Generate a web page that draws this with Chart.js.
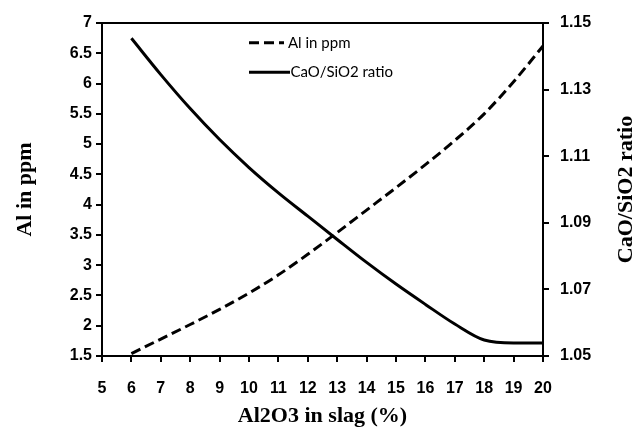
<!DOCTYPE html>
<html><head><meta charset="utf-8">
<script src="https://cdn.jsdelivr.net/npm/chart.js@4"></script>
<style>html,body{margin:0;padding:0;background:#fff}#wrap{width:638px;height:428px}</style>
</head><body><div id="wrap"><canvas id="c" width="638" height="428"></canvas></div>
<script>
const xValues = [6,7,8,9,10,11,12,13,14,15,16,17,18,19,20];
const alPpm = [1.54,1.78,2.02,2.27,2.54,2.84,3.18,3.54,3.91,4.28,4.66,5.06,5.50,6.03,6.62];
const caoSio2Ratio = [1.1454,1.1345,1.1243,1.1150,1.1066,1.0990,1.0920,1.0850,1.0781,1.0716,1.0655,1.0596,1.0548,1.0539,1.0539];
const xTickLabels = ['5','6','7','8','9','10','11','12','13','14','15','16','17','18','19','20'];
const leftTickLabels = ['1.5','2','2.5','3','3.5','4','4.5','5','5.5','6','6.5','7'];
const rightTickLabels = ['1.05','1.07','1.09','1.11','1.13','1.15'];
const seriesNames = ['Al in ppm','CaO/SiO2 ratio'];
const xTitle = 'Al2O3 in slag (%)';
const leftTitle = 'Al in ppm';
const rightTitle = 'CaO/SiO2 ratio';

function labelFrom(list, v){
  const hit = list.find(s => Math.abs(parseFloat(s) - v) < 1e-6);
  return hit === undefined ? '' : hit;
}

const tickFont = {family:'"Liberation Sans", Arial, sans-serif', weight:'bold', size:16};
const titleFont = {family:'"Liberation Serif", "Times New Roman", serif', weight:'bold', size:22};
const gridOpts = {drawOnChartArea:false, drawTicks:true, tickLength:6, color:'#000', lineWidth:2, tickColor:'#000', tickWidth:2};

const framePlugin = {
  id:'frame',
  afterDraw(chart){
    const {ctx, chartArea:a, scales} = chart;
    ctx.save();
    ctx.strokeStyle = '#000';
    ctx.lineWidth = 2;
    ctx.beginPath();
    ctx.moveTo(a.left - 1, a.top);
    ctx.lineTo(a.right + 1, a.top);
    scales.x.ticks.forEach(t => {
      const px = Math.round(scales.x.getPixelForValue(t.value));
      ctx.moveTo(px, a.bottom); ctx.lineTo(px, a.bottom + 6);
    });
    scales.y.ticks.forEach(t => {
      const py = Math.round(scales.y.getPixelForValue(t.value));
      ctx.moveTo(a.left, py); ctx.lineTo(a.left - 6, py);
    });
    scales.y1.ticks.forEach(t => {
      const py = Math.round(scales.y1.getPixelForValue(t.value));
      ctx.moveTo(a.right, py); ctx.lineTo(a.right + 6, py);
    });
    ctx.stroke();
    ctx.translate(632, (a.top + a.bottom) / 2);
    ctx.rotate(-Math.PI / 2);
    ctx.fillStyle = '#000';
    ctx.font = 'bold 22px "Liberation Serif", "Times New Roman", serif';
    ctx.textAlign = 'center';
    ctx.textBaseline = 'alphabetic';
    ctx.fillText(rightTitle, 0, 0);
    ctx.restore();
  }
};

const legendPlugin = {
  id:'inLegend',
  afterDatasetsDraw(chart){
    const {ctx} = chart;
    const rows = [{y:42.7, x0:249, x1:284, tx:288}, {y:72.3, x0:249, x1:290, tx:290.5}];
    ctx.save();
    chart.data.datasets.forEach((ds, i) => {
      const r = rows[i];
      ctx.strokeStyle = ds.borderColor;
      ctx.lineWidth = 3;
      ctx.setLineDash(ds.borderDash || []);
      ctx.beginPath();
      ctx.moveTo(r.x0, r.y);
      ctx.lineTo(r.x1, r.y);
      ctx.stroke();
      ctx.setLineDash([]);
      ctx.fillStyle = '#000';
      ctx.font = '15px Lato';
      ctx.textAlign = 'left';
      ctx.textBaseline = 'middle';
      ctx.fillText(ds.label, r.tx, r.y);
    });
    ctx.restore();
  }
};

new Chart(document.getElementById('c'), {
  type:'line',
  data:{
    datasets:[
      {label:seriesNames[0], data:xValues.map((x,i)=>({x, y:alPpm[i]})), yAxisID:'y',
       borderColor:'#000', borderWidth:3, borderDash:[10,5], pointRadius:0, fill:false,
       cubicInterpolationMode:'monotone'},
      {label:seriesNames[1], data:xValues.map((x,i)=>({x, y:caoSio2Ratio[i]})), yAxisID:'y1',
       borderColor:'#000', borderWidth:3, pointRadius:0, fill:false,
       cubicInterpolationMode:'monotone'}
    ]
  },
  options:{
    responsive:false, animation:false, devicePixelRatio:1,
    layout:{padding:{top:23, left:0, right:0, bottom:0}},
    plugins:{legend:{display:false}, tooltip:{enabled:false}},
    scales:{
      x:{type:'linear', min:5, max:20, position:'bottom',
         afterFit(s){ s.height = 72; },
         ticks:{stepSize:1, font:tickFont, color:'#000', padding:17, maxRotation:0, autoSkip:false,
                callback:v => labelFrom(xTickLabels, v)},
         grid:gridOpts,
         border:{display:true, color:'#000', width:2},
         title:{display:true, text:xTitle, font:titleFont, color:'#000', padding:{top:0,bottom:-2}}},
      y:{type:'linear', min:1.5, max:7, position:'left',
         afterFit(s){ s.width = 102; },
         ticks:{stepSize:0.5, font:tickFont, color:'#000', padding:4,
                callback:v => labelFrom(leftTickLabels, v)},
         grid:gridOpts,
         border:{display:true, color:'#000', width:2},
         title:{display:true, text:leftTitle, font:titleFont, color:'#000', padding:{top:12,bottom:0}}},
      y1:{type:'linear', min:1.05, max:1.15, position:'right',
         afterFit(s){ s.width = 95; },
         ticks:{stepSize:0.02, font:tickFont, color:'#000', padding:11,
                callback:v => labelFrom(rightTickLabels, v)},
         grid:gridOpts,
         border:{display:true, color:'#000', width:2}}
    }
  },
  plugins:[framePlugin, legendPlugin]
});
</script>
</body></html>
